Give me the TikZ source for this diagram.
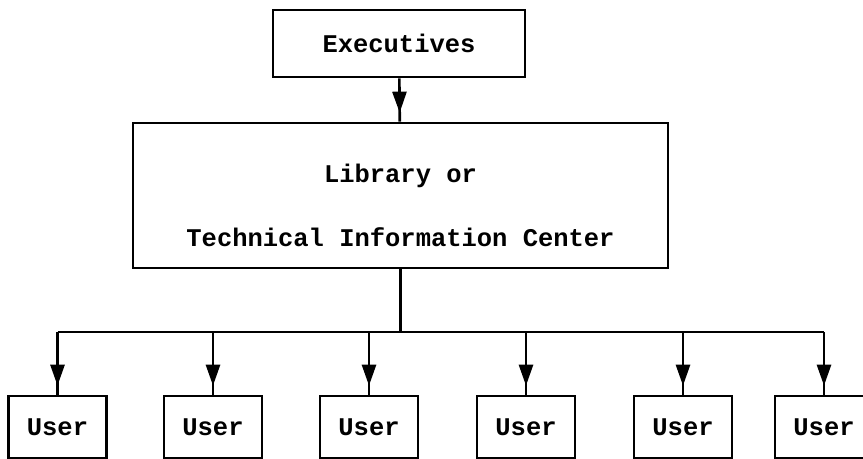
\documentclass[tikz,border=0pt]{standalone}
\usepackage{fontspec}
\setmonofont{Liberation Mono}
\usepackage{tikz}
\usetikzlibrary{arrows.meta,positioning,decorations.markings}

\begin{document}
\begin{tikzpicture}[
  box/.style={draw,line width=1.5pt,font=\fontsize{14.5}{17}\selectfont\ttfamily\bfseries,
              align=center,fill=white,inner sep=0pt},
  feed/.style={line width=1.5pt,postaction={decorate},
               decoration={markings,mark=at position -0.18cm with
                 {\arrow{Triangle[length=0.42cm,width=0.28cm]}}}}
]
\useasboundingbox (0,0) rectangle (17.26,-9.18);
\node[box,minimum width=5.04cm,minimum height=1.34cm] (exec) at (7.98,-0.87) {Executives};
\node[box,minimum width=10.7cm,minimum height=2.9cm] (lib) at (8.01,-3.91)
  {\rule{0pt}{0.75cm}Library or\\[0.68cm]Technical Information Center};
% the six users along the bottom
\node[box,minimum width=1.96cm,minimum height=1.24cm] (u1) at (1.15,-8.54) {User};
\node[box,minimum width=1.96cm,minimum height=1.24cm] (u2) at (4.26,-8.54) {User};
\node[box,minimum width=1.96cm,minimum height=1.24cm] (u3) at (7.38,-8.54) {User};
\node[box,minimum width=1.96cm,minimum height=1.24cm] (u4) at (10.52,-8.54) {User};
\node[box,minimum width=1.96cm,minimum height=1.24cm] (u5) at (13.66,-8.54) {User};
\node[box,minimum width=1.96cm,minimum height=1.24cm] (u6) at (16.48,-8.54) {User};
\coordinate (bus) at (0,-6.64);
\draw[feed] (exec) -- (lib);
\draw[line width=1.5pt] (lib.south) -- (lib.south |- bus);
\draw[line width=1.5pt] (u1.north |- bus) -- (u6.north |- bus);
\draw[feed] (u1.north |- bus) -- (u1.north);
\draw[feed] (u2.north |- bus) -- (u2.north);
\draw[feed] (u3.north |- bus) -- (u3.north);
\draw[feed] (u4.north |- bus) -- (u4.north);
\draw[feed] (u5.north |- bus) -- (u5.north);
\draw[feed] (u6.north |- bus) -- (u6.north);
\end{tikzpicture}
\end{document}
